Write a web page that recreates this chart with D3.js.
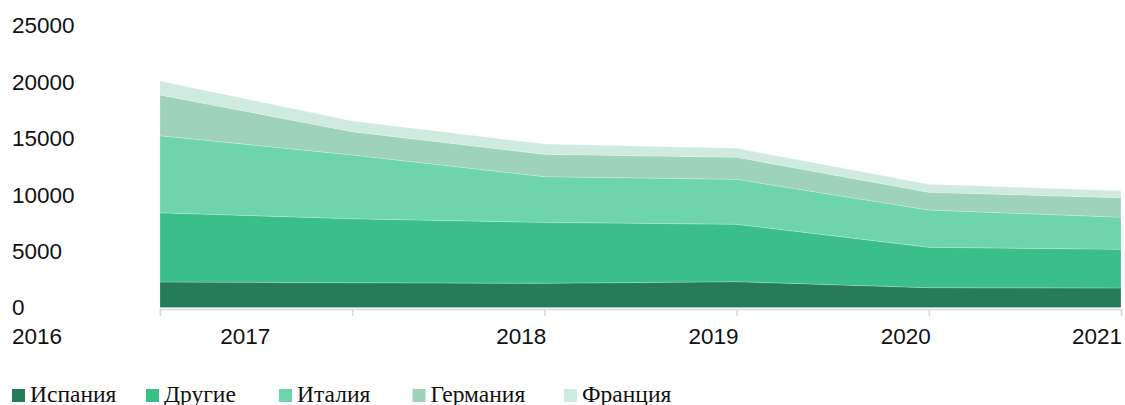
<!DOCTYPE html>
<html>
<head>
<meta charset="utf-8">
<script src="https://cdn.jsdelivr.net/npm/d3@7"></script>
<style>
  html, body { margin: 0; padding: 0; background: #fff; }
  svg { display: block; }
</style>
</head>
<body>
<svg id="chart" width="1125" height="405"></svg>
<script>
// ---- data ----
const years = [2016, 2017, 2018, 2019, 2020, 2021];
const seriesNames = ["Испания", "Другие", "Италия", "Германия", "Франция"];
const spain   = [2260, 2200, 2150, 2290, 1760, 1730];
const others  = [6140, 5670, 5400, 5090, 3580, 3430];
const italy   = [6830, 5650, 4050, 3980, 3300, 2840];
const germany = [3610, 2070, 1980, 1960, 1570, 1730];
const france  = [1240,  940,  910,  790,  710,  620];
const yTicks = [0, 5000, 10000, 15000, 20000, 25000];

// ---- styles / layout ----
const colors = ["#267c59", "#3abf88", "#6ed4ac", "#9ed3ba", "#cfeadf"];
const keys = ["spain", "others", "italy", "germany", "france"];
const table = years.map((y, i) => ({
  year: y, spain: spain[i], others: others[i], italy: italy[i],
  germany: germany[i], france: france[i]
}));

const svg = d3.select("#chart");
const x = d3.scaleLinear().domain([2016, 2021]).range([160, 1121]);
const y = d3.scaleLinear().domain([0, 25000]).range([307.5, 25.5]);

const stack = d3.stack().keys(keys);
const layers = stack(table);
const area = d3.area()
  .x(d => x(d.data.year))
  .y0(d => y(d[0]))
  .y1(d => y(d[1]));

svg.append("g").selectAll("path")
  .data(layers)
  .join("path")
  .attr("d", area)
  .attr("fill", (d, i) => colors[i])
  .attr("stroke", "#ffffff")
  .attr("stroke-opacity", 0.35)
  .attr("stroke-width", 0.6);

// y labels
const fontSans = '"Liberation Sans", Arial, sans-serif';
const fontSerif = '"Liberation Serif", "Times New Roman", serif';
svg.append("g").selectAll("text")
  .data(yTicks)
  .join("text")
  .attr("x", 12)
  .attr("y", d => y(d))
  .attr("dy", "0.35em")
  .style("font-family", fontSans)
  .style("font-size", "22.5px")
  .attr("fill", "#111")
  .text(d => d);

// x axis
const xAxis = d3.axisBottom(x)
  .tickValues(years)
  .tickSize(7)
  .tickFormat("");
const gx = svg.append("g")
  .attr("transform", "translate(0,309)")
  .call(xAxis);
gx.select(".domain").attr("stroke", "#d9d9d9").attr("stroke-width", 1.5);
gx.selectAll(".tick line").attr("stroke", "#d9d9d9").attr("stroke-width", 1.5);

// x labels (original layout: first label at left edge, second shifted, rest right-aligned to ticks)
const xLabelOffsets = [null, -82, 2, 2, 2, 1];
svg.append("g").selectAll("text")
  .data(years)
  .join("text")
  .attr("x", (d, i) => i === 0 ? 12 : x(d) + xLabelOffsets[i])
  .attr("y", 344)
  .attr("text-anchor", (d, i) => i === 0 ? "start" : "end")
  .style("font-family", fontSans)
  .style("font-size", "22.5px")
  .attr("fill", "#111")
  .text(d => d);

// legend
const legendX = [12, 146, 279, 412.5, 564];
const lg = svg.append("g").selectAll("g")
  .data(seriesNames)
  .join("g")
  .attr("transform", (d, i) => `translate(${legendX[i]},389)`);
lg.append("rect")
  .attr("width", 13).attr("height", 13)
  .attr("fill", (d, i) => colors[i]);
lg.append("text")
  .attr("x", 18)
  .attr("y", 13)
  .style("font-family", fontSerif)
  .style("font-size", "23.5px")
  .attr("fill", "#111")
  .text(d => d);
</script>
</body>
</html>
